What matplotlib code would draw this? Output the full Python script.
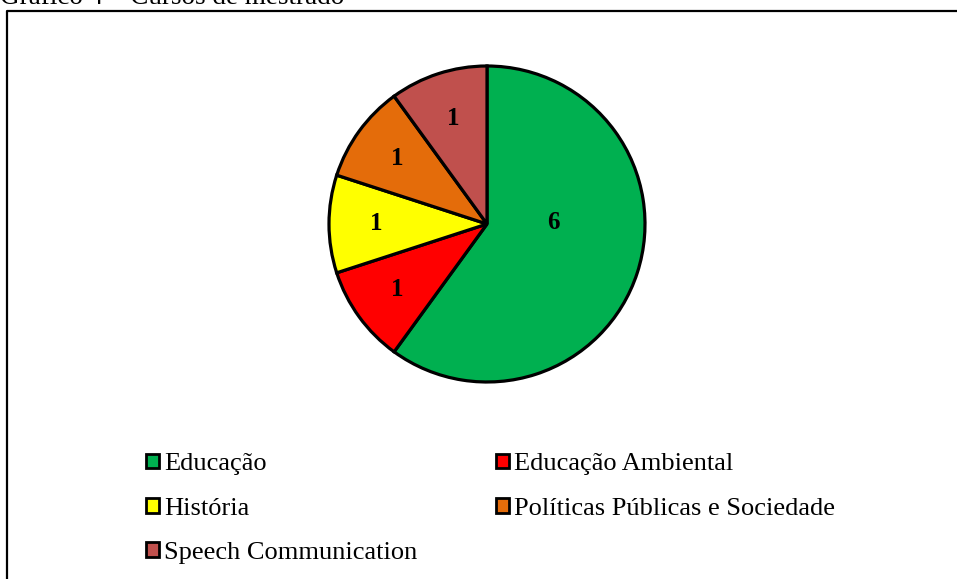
import matplotlib
matplotlib.use("Agg")
import matplotlib.pyplot as plt
from matplotlib.patches import Patch
from matplotlib.lines import Line2D

plt.rcParams['font.family'] = ['Liberation Serif', 'DejaVu Serif']

# -----------------------------
# Data
# -----------------------------
cursos = ["Educação", "Educação Ambiental", "História",
          "Políticas Públicas e Sociedade", "Speech Communication"]
valores = [6, 1, 1, 1, 1]
cores = ["#00B050", "#FF0000", "#FFFF00", "#E46C0A", "#C0504D"]
titulo = "Gráfico 4 – Cursos de mestrado"

W, H = 957, 579
fig = plt.figure(figsize=(W / 100, H / 100), dpi=100)

# -----------------------------
# Frame + title (title is clipped at the top, as in the source)
# -----------------------------
fig.add_artist(Line2D([6.5 / W, 6.5 / W, 1.0], [0.0, 1 - 10.5 / H, 1 - 10.5 / H],
                      transform=fig.transFigure, color="black", lw=1.6))
fig.text(0.0, 1 - 4 / H, titulo, fontsize=19.5, va="baseline", ha="left")

# -----------------------------
# Pie
# -----------------------------
cx, cy, r = 487, 224, 158
ax = fig.add_axes([(cx - r) / W, (H - cy - r) / H, 2 * r / W, 2 * r / H])
wedges, texts = ax.pie(valores, colors=cores, startangle=90, counterclock=False,
                       labels=[str(v) for v in valores], labeldistance=0.70,
                       wedgeprops=dict(edgecolor="black", linewidth=2.3),
                       textprops=dict(fontsize=18, fontweight="bold", ha="center", va="center"))
# Excel's best-fit puts the big slice label closer to the centre
texts[0].set_position((0.42, 0.01))
ax.set_xlim(-1, 1)
ax.set_ylim(-1, 1)
ax.set_aspect("equal")
ax.axis("off")

# -----------------------------
# Legend (row-wise order like Excel)
# -----------------------------
order = [0, 2, 4, 1, 3]
handles = [Patch(facecolor=cores[i], edgecolor="black", linewidth=2.0) for i in order]
labels = [cursos[i] for i in order]
fig.legend(handles, labels, loc="upper left", bbox_to_anchor=(133 / W, 1 - 440 / H),
           ncol=2, frameon=False, fontsize=19, handlelength=0.47, handleheight=0.47,
           handletextpad=0.22, columnspacing=2.98, labelspacing=0.85, borderpad=0)

fig.savefig("out.png", dpi=100)
